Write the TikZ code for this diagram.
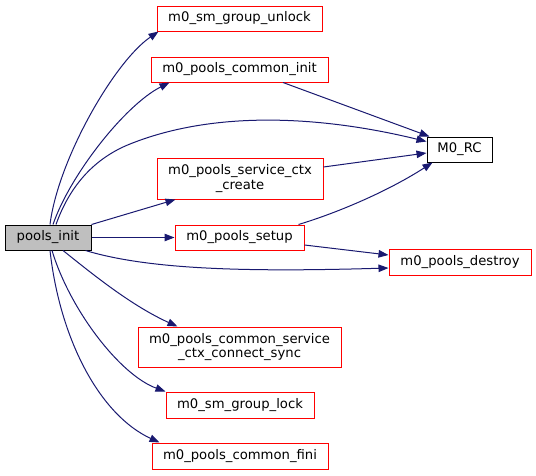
\documentclass[tikz,border=0pt]{standalone}
\usepackage{fontspec}
\setmainfont{DejaVu Sans}
\usetikzlibrary{arrows.meta}
\definecolor{edgeblue}{HTML}{191970}
\definecolor{nodegray}{HTML}{BFBFBF}
\tikzset{
  fn/.style={draw=red, line width=1pt, inner sep=0pt, align=center,
    font=\fontsize{13.2}{14.5}\selectfont, text=black},
  rootfn/.style={fn, draw=black, fill=nodegray},
  plainfn/.style={fn, draw=black},
  call/.style={draw=edgeblue, line width=1pt, -{Triangle[length=10pt,width=7.5pt]}, fill=none},
}
\begin{document}
\begin{tikzpicture}[x=1pt,y=-1pt]
\useasboundingbox (0,0) rectangle (536,475);
\node[fn, minimum width=165pt, minimum height=25pt] (unlock) at (239.5,18.5) {m0\_sm\_group\_unlock};
\node[fn, minimum width=177pt, minimum height=25pt] (cinit) at (239.5,69.5) {m0\_pools\_common\_init};
\node[plainfn, minimum width=65pt, minimum height=25pt] (rc) at (459.5,149.5) {M0\_RC};
\node[fn, minimum width=166pt, minimum height=41pt] (svc) at (240,178.5) {m0\_pools\_service\_ctx\\\_create};
\node[rootfn, minimum width=86pt, minimum height=25pt] (pinit) at (48,237.5) {pools\_init};
\node[fn, minimum width=129pt, minimum height=25pt] (setup) at (239.5,237.5) {m0\_pools\_setup};
\node[fn, minimum width=142pt, minimum height=26pt] (destroy) at (460,262) {m0\_pools\_destroy};
\node[fn, minimum width=203pt, minimum height=40pt] (connect) at (239.5,347) {m0\_pools\_common\_service\\\_ctx\_connect\_sync};
\node[fn, minimum width=148pt, minimum height=26pt] (lock) at (240,405) {m0\_sm\_group\_lock};
\node[fn, minimum width=176pt, minimum height=26pt] (fini) at (240,456) {m0\_pools\_common\_fini};

\draw[call] ([xshift=2pt]pinit.north) .. controls (58,160) and (114,62) .. ([xshift=2pt]unlock.south west);
\draw[call] ([xshift=5pt]pinit.north) .. controls (70,175) and (125,105) .. ([xshift=19pt]cinit.south west);
\draw[call] ([xshift=8pt]pinit.north) .. controls (70,185) and (95,158) .. (130,144)
   .. controls (220,108) and (330,118) .. ([yshift=-5pt]rc.north west);
\draw[call] ([xshift=43.5pt]cinit.south) -- ([xshift=3pt]rc.north west);
\draw[call] ([yshift=11.5pt]svc.east) -- ([yshift=-3.5pt]rc.west);
\draw[call] ([xshift=-6pt]setup.north east) .. controls (340,212) and (390,190) .. ([xshift=6pt]rc.south west);
\draw[call] (pinit.north east) -- ([xshift=19pt]svc.south west);
\draw[call] (pinit.east) -- (setup.west);
\draw[call] ([yshift=-7.5pt]setup.east) -- ([yshift=7pt]destroy.west);
\draw[call] ([xshift=-6pt]pinit.south east) .. controls (150,270) and (250,272) .. ([yshift=-6pt]destroy.west);
\draw[call] ([xshift=15pt]pinit.south) .. controls (90,272) and (130,305) .. ([xshift=40pt]connect.north west);
\draw[call] ([xshift=4pt]pinit.south) .. controls (70,310) and (120,375) .. (lock.north west);
\draw[call] ([xshift=2pt]pinit.south) .. controls (60,340) and (100,415) .. ([xshift=8pt]fini.north west);
\end{tikzpicture}
\end{document}
